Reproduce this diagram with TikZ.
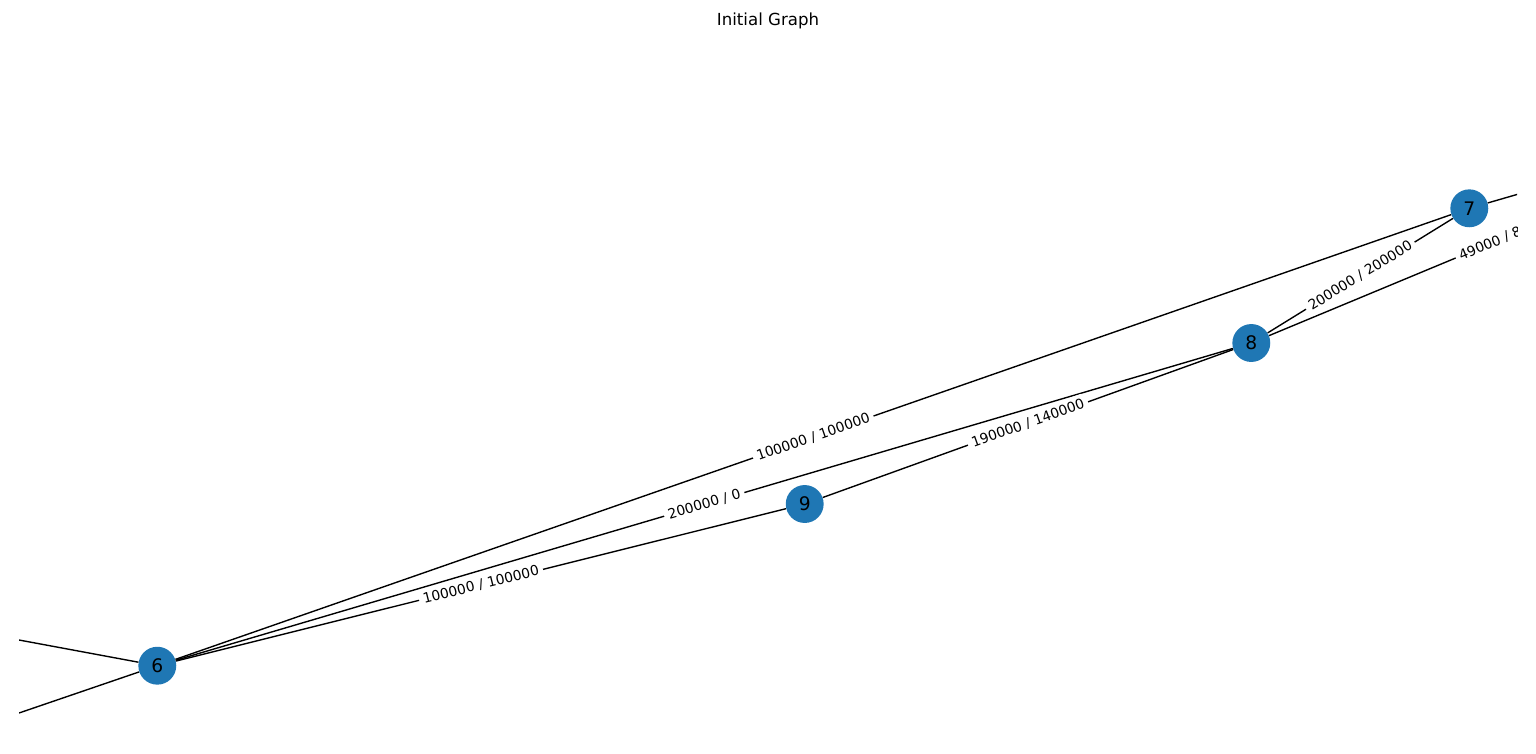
\documentclass[tikz,border=0pt]{standalone}
\usepackage{fontspec}
\setmainfont{DejaVu Sans}
\usepackage{tikz}
\usetikzlibrary{calc}
\usetikzlibrary{positioning}
\definecolor{nxblue}{RGB}{31, 119, 180}

\tikzset{
    vertex/.style={circle, fill=nxblue, minimum size=27.4pt, inner sep=0pt, font=\fontsize{13.5}{16}\selectfont},
    wedge/.style={black, line width=1pt},
    weight/.style={fill=white, rounded corners=3pt, inner sep=3pt, sloped, font=\fontsize{10}{12}\selectfont}
}

\begin{document}
\begin{tikzpicture}[x=0.254mm, y=-0.254mm]
            \useasboundingbox (0, 0) rectangle (1536, 754);
            \node[font=\fontsize{12}{14}\selectfont] (title) at (768, 21) {Initial Graph};
            \begin{scope}
                \clip (19, 0) rectangle (1517, 754);
                % nodes
                \node[vertex] (n6) at ( 157.3, 665.7) {6};
                \node[vertex] (n9) at ( 804.7, 504.0) {9};
                \node[vertex] (n8) at (1251.3, 343.0) {8};
                \node[vertex] (n7) at (1469.3, 208.3) {7};
                \coordinate (w1) at (  19.0, 640.0);
                \coordinate (w2) at (  19.0, 713.0);
                \coordinate (e7) at (1600.0, 170.4);
                \coordinate (e8) at (1761.0, 131.0);
                % edges
                \draw[wedge] (w1) -- (n6);
                \draw[wedge] (w2) -- (n6);
                \draw[wedge] (n6) -- (n7);
                \draw[wedge] (n6) -- (n8);
                \draw[wedge] (n6) -- (n9);
                \draw[wedge] (n9) -- (n8);
                \draw[wedge] (n8) -- (n7);
                \draw[wedge] (n8) -- (e8);
                \draw[wedge] (n7) -- (e7);
                % weights
                \path (n6) -- node[weight] {100000 / 100000} (n7);
                \path (n6) -- node[weight] {200000 / 0} (n8);
                \path (n6) -- node[weight] {100000 / 100000} (n9);
                \path (n9) -- node[weight] {190000 / 140000} (n8);
                \path (n8) -- node[weight] {200000 / 200000} (n7);
                \path (n8) -- node[weight, pos=0.379, anchor=west] {49000 / 8} (e8);
            \end{scope}
        \end{tikzpicture}
\end{document}
